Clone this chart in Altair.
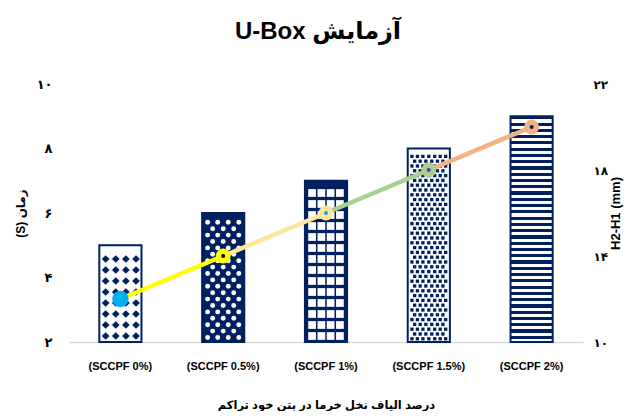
import altair as alt
import pandas as pd

# ---------------- data ----------------
categories = ["(SCCPF 0%)", "(SCCPF 0.5%)", "(SCCPF 1%)", "(SCCPF 1.5%)", "(SCCPF 2%)"]
time_s = [5, 6, 7, 8, 9]                 # left axis, bars
h2_h1 = [12, 14, 16, 18, 20]             # right axis, line
left_ticks = [2, 4, 6, 8, 10]
left_tick_labels = ["۲", "۴", "۶", "۸", "۱۰"]
right_ticks = [10, 14, 18, 22]
right_tick_labels = ["۱۰", "۱۴", "۱۸", "۲۲"]
marker_colors = ["#00B0F0", "#FFFF00", "#FFE699", "#A9D18E", "#F4B183"]
marker_sizes = [270, 220, 220, 220, 220]
dot_colors = ["#00B0F0", "#000000", "#00B0F0", "#7030A0", "#002060"]

RLE, PDF = "\u202b", "\u202c"
title_text = RLE + "آزمایش U-Box" + PDF
x_title = "درصد الیاف نخل خرما در بتن خود تراکم"
y_left_title = RLE + "زمان (S)" + PDF
y_right_title = "H2-H1 (mm)"

NAVY = "#002060"
FONT = "Liberation Sans, DejaVu Sans, Arial"
W, H = 514, 258
Y0, Y1 = 2, 10
U = (Y1 - Y0) / H   # data units per pixel on left axis


def expr_for(vals, labs):
    s = "''"
    for v, l in reversed(list(zip(vals, labs))):
        s = f"datum.value == {v} ? '{l}' : ({s})"
    return s


bars_df = pd.DataFrame({"cat": categories, "t": time_s})
line_df = pd.DataFrame({"cat": categories, "h": h2_h1, "ms": marker_sizes,
                        "mc": marker_colors, "dc": dot_colors})
seg_df = pd.DataFrame({
    "cat": categories[:-1], "cat2": categories[1:],
    "h": h2_h1[:-1], "h2": h2_h1[1:], "c": marker_colors[1:],
})


# ---------- texture grids (decoration derived from bar heights) ----------
def grid(cat, top, xs, dy_px, half_px, stagger=None):
    rows = []
    y = Y0 + (half_px + 1.5) * U
    k = 0
    while y + (half_px + 1.5) * U <= top:
        cols = xs if (stagger is None or k % 2 == 0) else stagger
        for fx in cols:
            rows.append({"cat": cat, "fx": fx, "y": y})
        y += dy_px * U
        k += 1
    return pd.DataFrame(rows)


tex1 = grid(categories[0], time_s[0], [0.15, 0.39, 0.63, 0.87], 11.0, 4.5)
tex2 = grid(categories[1], time_s[1], [0.13, 0.37, 0.62, 0.87], 6.4, 3,
            stagger=[0.25, 0.50, 0.75])
tex3 = grid(categories[2], time_s[2], [0.17, 0.39, 0.61, 0.83], 11.0, 4.5)
tex4 = grid(categories[3], time_s[3], [0.10, 0.23, 0.36, 0.50, 0.64, 0.77, 0.90],
            4.8, 1.7, stagger=[0.165, 0.295, 0.43, 0.57, 0.705, 0.835])

xs = alt.X("cat:N", sort=categories, title=x_title,
           scale=alt.Scale(paddingInner=0.59, paddingOuter=0.295),
           axis=alt.Axis(labelAngle=0, labelFont=FONT, labelFontWeight="bold",
                         labelFontSize=11, labelColor="#000000", labelPadding=18,
                         ticks=False, domainColor="#D9D9D9", domainWidth=1.5,
                         titleFont=FONT, titleFontSize=11.5, titleFontWeight="bold",
                         titleColor="#000000", titlePadding=28))

yl_scale = alt.Scale(domain=[Y0, Y1], nice=False, zero=False)
yl_axis = alt.Axis(values=left_ticks, labelExpr=expr_for(left_ticks, left_tick_labels),
                   grid=False, domain=False, ticks=False, labelFont=FONT,
                   labelFontWeight="bold", labelFontSize=13, labelColor="#000000",
                   labelPadding=17, title=y_left_title, titleFont=FONT,
                   titleFontSize=12, titleFontWeight="bold", titleColor="#000000",
                   titlePadding=9)

yr_scale = alt.Scale(domain=[10, 22], nice=False, zero=False)
yr_axis = alt.Axis(orient="right", values=right_ticks,
                   labelExpr=expr_for(right_ticks, right_tick_labels),
                   grid=False, domain=False, ticks=False, labelFont=FONT,
                   labelFontWeight="bold", labelFontSize=12, labelColor="#000000",
                   labelPadding=10, title=y_right_title, titleFont=FONT,
                   titleFontSize=13, titleFontWeight="bold", titleColor="#000000",
                   titlePadding=15, titleAngle=270)


def bar_layer(cat, fill):
    return alt.Chart(bars_df).transform_filter(alt.datum.cat == cat).mark_bar(
        fill=fill, stroke=NAVY, strokeWidth=2
    ).encode(
        x=xs,
        y=alt.Y("t:Q", scale=yl_scale, axis=yl_axis),
        y2=alt.Y2(datum=Y0),
    )


# striped gradient for last bar
n_str = 36
stops = []
for k in range(n_str):
    stops += [alt.GradientStop(offset=k / n_str, color=NAVY),
              alt.GradientStop(offset=(k + 0.5) / n_str, color=NAVY),
              alt.GradientStop(offset=(k + 0.5) / n_str, color="white"),
              alt.GradientStop(offset=(k + 1) / n_str, color="white")]
stripes = alt.LinearGradient(gradient="linear", x1=0, x2=0, y1=0, y2=1, stops=stops)

b1 = bar_layer(categories[0], "white")
b2 = bar_layer(categories[1], NAVY)
b3 = bar_layer(categories[2], NAVY)
b4 = bar_layer(categories[3], "white")
b5 = bar_layer(categories[4], stripes)


def tex_layers(df, shape, size, color):
    out = []
    for fx in sorted(df["fx"].unique()):
        sub = df[df["fx"] == fx]
        out.append(alt.Chart(sub).mark_point(
            shape=shape, size=size, filled=True, color=color, opacity=1, strokeWidth=0
        ).encode(
            x=alt.X("cat:N", sort=categories, bandPosition=float(fx)),
            y=alt.Y("y:Q"),
        ))
    return out


tex = (tex_layers(tex1, "diamond", 60, NAVY)
       + tex_layers(tex2, "circle", 24, "white")
       + tex_layers(tex3, "square", 60, "white")
       + tex_layers(tex4, "square", 11, NAVY))

left = alt.layer(b1, b2, b3, b4, b5, *tex)

segs = alt.Chart(seg_df).mark_rule(strokeWidth=4.5, strokeCap="round").encode(
    x=alt.X("cat:N", sort=categories),
    x2="cat2:N",
    y=alt.Y("h:Q", scale=yr_scale, axis=yr_axis),
    y2="h2:Q",
    color=alt.Color("c:N", scale=None),
)
markers = alt.Chart(line_df).mark_point(filled=True, opacity=1).encode(
    x=alt.X("cat:N", sort=categories),
    y=alt.Y("h:Q"),
    color=alt.Color("mc:N", scale=None),
    size=alt.Size("ms:Q", scale=None),
)
dots = alt.Chart(line_df).mark_point(filled=True, opacity=1, size=16).encode(
    x=alt.X("cat:N", sort=categories),
    y=alt.Y("h:Q"),
    color=alt.Color("dc:N", scale=None),
)
right = alt.layer(segs, markers, dots)

chart = alt.layer(left, right).resolve_scale(y="independent").properties(
    width=W, height=H,
    autosize=alt.AutoSizeParams(type="none"),
    padding={"left": 61, "top": 76, "right": 47, "bottom": 69},
    title=alt.Title(title_text, font=FONT, fontSize=24, fontWeight="bold",
                    color="#000000", offset=34, dx=-8),
).configure_view(stroke=None)

chart.save("out.html", embed_options={"renderer": "svg", "actions": False})
